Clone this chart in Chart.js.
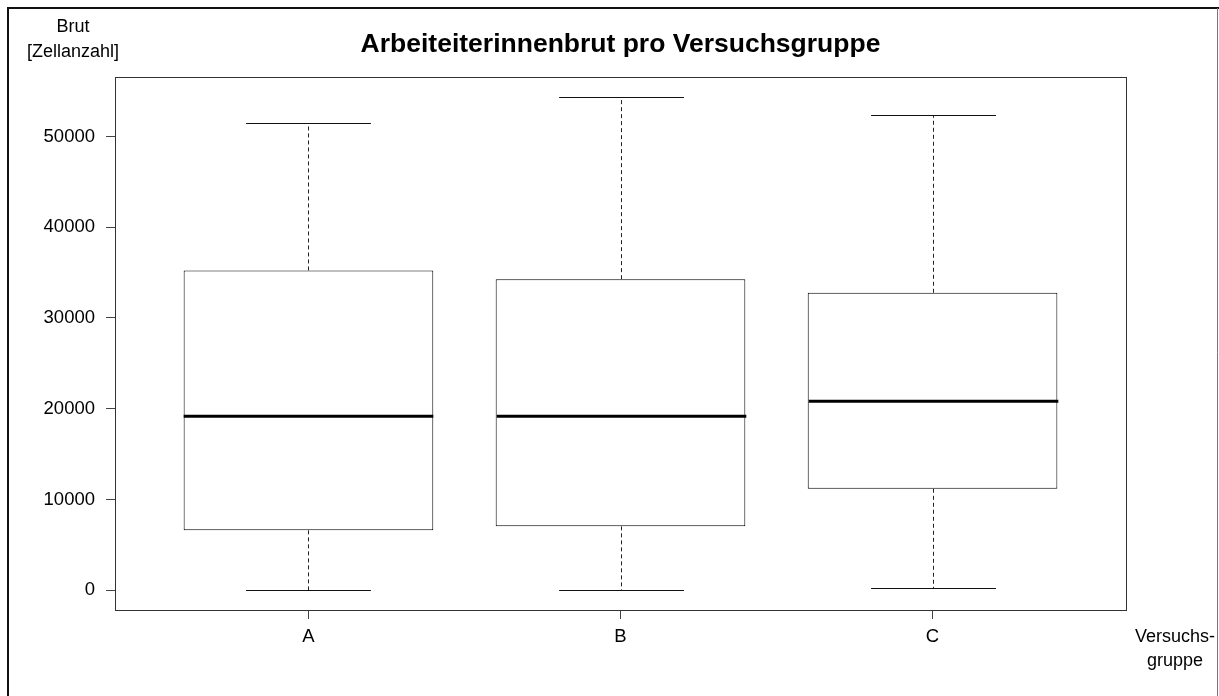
<!DOCTYPE html>
<html>
<head>
<meta charset="utf-8">
<title>Arbeiteiterinnenbrut pro Versuchsgruppe</title>
<script src="https://cdn.jsdelivr.net/npm/chart.js@4.4.1/dist/chart.umd.min.js"></script>
<style>
  html, body { margin: 0; padding: 0; background: #fff; }
  #wrap { width: 1219px; height: 696px; position: relative; }
</style>
</head>
<body>
<div id="wrap"><canvas id="brut"></canvas></div>
<script>
// Versuchsgruppen und Fünf-Punkte-Zusammenfassung
const groups = ["A", "B", "C"];
const minVals = [0, 0, 290];
const q1Vals = [6600, 7040, 11180];
const medianVals = [19180, 19180, 20830];
const q3Vals = [35240, 34280, 32780];
const maxVals = [51480, 54380, 52370];
const yTicks = [0, 10000, 20000, 30000, 40000, 50000];

const FONT = "'Liberation Sans', Arial, sans-serif";

// axis limits like R: data range plus 4 %
const lo = Math.min(...minVals), hi = Math.max(...maxVals);
const pad = (hi - lo) * 0.04;
const xPad = (groups.length) * 0.04;

const boxplotExtras = {
    id: 'boxplotExtras',
    afterDatasetsDraw(chart) {
        const ctx = chart.ctx;
        const xs = chart.scales.x, ys = chart.scales.y;
        const bars = chart.getDatasetMeta(0).data;
        ctx.save();
        groups.forEach((g, i) => {
            const x = Math.round(xs.getPixelForValue(i + 1)) + 0.5;
            const w = bars[i].width;
            const yMin = Math.round(ys.getPixelForValue(minVals[i])) + 0.5;
            const yQ1 = ys.getPixelForValue(q1Vals[i]);
            const yQ3 = ys.getPixelForValue(q3Vals[i]);
            const yMax = Math.round(ys.getPixelForValue(maxVals[i])) + 0.5;
            const yMed = ys.getPixelForValue(medianVals[i]);

            // dashed whiskers
            ctx.strokeStyle = '#222';
            ctx.lineWidth = 1;
            ctx.setLineDash([4, 3]);
            ctx.beginPath();
            ctx.moveTo(x, yQ3); ctx.lineTo(x, yMax);
            ctx.moveTo(x, yQ1); ctx.lineTo(x, yMin);
            ctx.stroke();

            // caps
            ctx.setLineDash([]);
            ctx.strokeStyle = '#111';
            ctx.beginPath();
            ctx.moveTo(x - w / 4, yMax); ctx.lineTo(x + w / 4, yMax);
            ctx.moveTo(x - w / 4, yMin); ctx.lineTo(x + w / 4, yMin);
            ctx.stroke();

            // median
            ctx.strokeStyle = '#000';
            ctx.lineWidth = 3;
            ctx.beginPath();
            ctx.moveTo(x - w / 2, yMed); ctx.lineTo(x + w / 2, yMed);
            ctx.stroke();
        });
        ctx.restore();
    },
    afterDraw(chart) {
        const ctx = chart.ctx;
        const a = chart.chartArea;
        ctx.save();
        // plot box
        ctx.strokeStyle = '#333';
        ctx.lineWidth = 1;
        ctx.strokeRect(Math.round(a.left) + 0.5, Math.round(a.top) + 0.5,
            Math.round(a.right - a.left), Math.round(a.bottom - a.top));

        // outer frame (open at the bottom)
        ctx.strokeStyle = '#111';
        ctx.lineWidth = 2;
        ctx.beginPath();
        ctx.moveTo(8, 700); ctx.lineTo(8, 8); ctx.lineTo(1219, 8);
        ctx.stroke();
        ctx.strokeStyle = '#777';
        ctx.lineWidth = 1;
        ctx.beginPath();
        ctx.moveTo(1217.5, 8); ctx.lineTo(1217.5, 700);
        ctx.stroke();

        // texts
        ctx.fillStyle = '#000';
        ctx.textAlign = 'center';
        ctx.textBaseline = 'alphabetic';
        ctx.font = 'bold 26.5px ' + FONT;
        ctx.fillText('Arbeiteiterinnenbrut pro Versuchsgruppe', (a.left + a.right) / 2, 52);

        ctx.font = '18px ' + FONT;
        ctx.fillText('Brut', 73, 32);
        ctx.fillText('[Zellanzahl]', 73, 57);
        ctx.fillText('Versuchs-', 1175, 642);
        ctx.fillText('gruppe', 1175, 666);
        ctx.restore();
    }
};

new Chart(document.getElementById('brut'), {
    type: 'bar',
    data: {
        datasets: [{
            data: groups.map((g, i) => ({ x: i + 1, y: [q1Vals[i], q3Vals[i]] })),
            backgroundColor: '#fff',
            borderColor: '#000',
            borderWidth: 1,
            borderSkipped: false,
            barPercentage: 0.8,
            categoryPercentage: 1.0
        }]
    },
    options: {
        responsive: true,
        maintainAspectRatio: false,
        animation: false,
        events: [],
        layout: {
            padding: { top: 77, right: 93, left: 0, bottom: 0 }
        },
        plugins: {
            legend: { display: false },
            tooltip: { enabled: false },
            title: { display: false }
        },
        scales: {
            x: {
                type: 'linear',
                offset: false,
                min: 1 - 0.5 - xPad,
                max: groups.length + 0.5 + xPad,
                afterBuildTicks: s => { s.ticks = groups.map((g, i) => ({ value: i + 1 })); },
                afterFit: s => { s.height = 86; },
                ticks: {
                    callback: v => groups[v - 1],
                    font: { family: FONT, size: 18.5 },
                    color: '#000',
                    padding: 7,
                    maxRotation: 0
                },
                grid: { offset: false, drawOnChartArea: false, drawTicks: true, tickLength: 9, color: '#444' },
                border: { display: false }
            },
            y: {
                min: lo - pad,
                max: hi + pad,
                afterBuildTicks: s => { s.ticks = yTicks.map(v => ({ value: v })); },
                afterFit: s => { s.width = 115; },
                ticks: {
                    callback: v => String(v),
                    font: { family: FONT, size: 18.5 },
                    color: '#000',
                    padding: 11
                },
                grid: { drawOnChartArea: false, drawTicks: true, tickLength: 9, color: '#444' },
                border: { display: false }
            }
        }
    },
    plugins: [boxplotExtras]
});
</script>
</body>
</html>
